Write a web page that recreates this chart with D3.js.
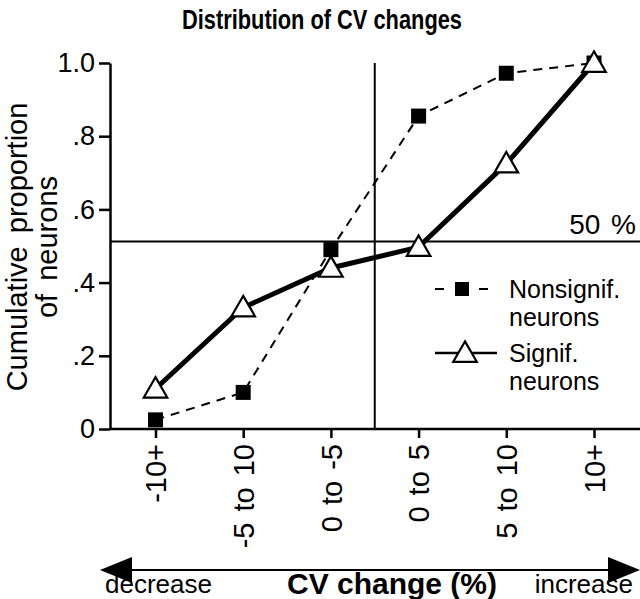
<!DOCTYPE html>
<html>
<head>
<meta charset="utf-8">
<script src="https://cdn.jsdelivr.net/npm/d3@7"></script>
<style>
  html, body { margin: 0; padding: 0; background: #fff; }
  svg { display: block; font-family: "Liberation Sans", Arial, sans-serif; }
</style>
</head>
<body>
<svg id="chart" width="640" height="599"></svg>
<script>
const categories = ["-10+", "-5 to 10", "0 to -5", "0 to 5", "5 to 10", "10+"];
const nonsignif = [0.025, 0.10, 0.49, 0.855, 0.972, 1.0];
const signif = [0.11, 0.332, 0.44, 0.497, 0.725, 1.0];
const yTicks = [0, 0.2, 0.4, 0.6, 0.8, 1.0];
const yTickLabels = ["0", ".2", ".4", ".6", ".8", "1.0"];
const fiftyLevel = 0.512;

const svg = d3.select("#chart");
const x = d3.scalePoint().domain(categories).range([155.5, 594]);
const y = d3.scaleLinear().domain([0, 1]).range([429, 63]);
const axisLeftX = 110;

// title
svg.append("text").attr("x", 182).attr("y", 29)
  .attr("font-size", 28).attr("font-weight", "bold")
  .attr("textLength", 280).attr("lengthAdjust", "spacingAndGlyphs")
  .text("Distribution of CV changes");

// y axis
const yAxis = d3.axisLeft(y).tickValues(yTicks)
  .tickFormat((d, i) => yTickLabels[i]).tickSize(11).tickSizeOuter(0).tickPadding(4);
const gy = svg.append("g").attr("transform", `translate(${axisLeftX},0)`).call(yAxis);
gy.select(".domain").attr("stroke", "#000").attr("stroke-width", 2.5);
gy.selectAll(".tick line").attr("stroke", "#000").attr("stroke-width", 2.5);
gy.selectAll(".tick text").attr("font-size", 27).attr("fill", "#000")
  .attr("font-family", "Liberation Sans, Arial, sans-serif");

// x axis line
svg.append("line").attr("x1", axisLeftX).attr("x2", 640).attr("y1", y(0)).attr("y2", y(0))
  .attr("stroke", "#000").attr("stroke-width", 2.5);
const xAxis = d3.axisBottom(x).tickSize(9).tickSizeOuter(0).tickPadding(6);
const gx = svg.append("g").attr("transform", `translate(0,${y(0)})`).call(xAxis);
gx.select(".domain").remove();
gx.selectAll(".tick line").attr("stroke", "#000").attr("stroke-width", 2.5);
gx.selectAll(".tick text").attr("font-size", 29).attr("fill", "#000")
  .attr("font-family", "Liberation Sans, Arial, sans-serif")
  .attr("word-spacing", 3)
  .attr("transform", "rotate(-90)").attr("text-anchor", "end")
  .attr("x", -15).attr("y", 0).attr("dy", "0.35em");

// reference lines
const midX = (x(categories[2]) + x(categories[3])) / 2;
svg.append("line").attr("x1", midX).attr("x2", midX).attr("y1", y(1)).attr("y2", y(0))
  .attr("stroke", "#000").attr("stroke-width", 2);
svg.append("line").attr("x1", axisLeftX).attr("x2", 640).attr("y1", y(fiftyLevel)).attr("y2", y(fiftyLevel))
  .attr("stroke", "#000").attr("stroke-width", 2);
svg.append("text").attr("x", 636).attr("y", y(fiftyLevel) - 8).attr("text-anchor", "end")
  .attr("font-size", 28).attr("word-spacing", 3).text("50 %");

// series lines
const line = d3.line().x((d, i) => x(categories[i])).y(d => y(d));
svg.append("path").datum(nonsignif).attr("d", line).attr("fill", "none")
  .attr("stroke", "#000").attr("stroke-width", 2).attr("stroke-dasharray", "9,7");
svg.append("path").datum(signif).attr("d", line).attr("fill", "none")
  .attr("stroke", "#000").attr("stroke-width", 5);

// markers
const tri = d3.symbol().type(d3.symbolTriangle).size(240);
svg.selectAll(".sq").data(nonsignif).enter().append("rect")
  .attr("x", (d, i) => x(categories[i]) - 7.5).attr("y", d => y(d) - 7.5)
  .attr("width", 15).attr("height", 15).attr("fill", "#000");
svg.selectAll(".tri").data(signif).enter().append("path")
  .attr("d", tri).attr("transform", (d, i) => `translate(${x(categories[i])},${y(d) + 2})`)
  .attr("fill", "#fff").attr("stroke", "#000").attr("stroke-width", 2.2);

// legend
const lg = svg.append("g");
lg.append("line").attr("x1", 435).attr("x2", 488).attr("y1", 289).attr("y2", 289)
  .attr("stroke", "#000").attr("stroke-width", 2).attr("stroke-dasharray", "9,13");
lg.append("rect").attr("x", 455).attr("y", 282).attr("width", 14).attr("height", 14).attr("fill", "#000");
lg.append("text").attr("x", 509).attr("y", 298).attr("font-size", 25).text("Nonsignif.");
lg.append("text").attr("x", 509).attr("y", 326).attr("font-size", 25).text("neurons");
lg.append("line").attr("x1", 435).attr("x2", 497).attr("y1", 353).attr("y2", 353)
  .attr("stroke", "#000").attr("stroke-width", 2.5);
lg.append("path").attr("d", tri).attr("transform", "translate(465,355)")
  .attr("fill", "#fff").attr("stroke", "#000").attr("stroke-width", 2.2);
lg.append("text").attr("x", 509).attr("y", 362).attr("font-size", 25).text("Signif.");
lg.append("text").attr("x", 509).attr("y", 390).attr("font-size", 25).text("neurons");

// y axis title
const yt = svg.append("text").attr("transform", "translate(27,247) rotate(-90)")
  .attr("text-anchor", "middle").attr("font-size", 29).attr("word-spacing", 5);
yt.append("tspan").attr("x", 0).attr("y", 0).text("Cumulative proportion");
yt.append("tspan").attr("x", 0).attr("y", 30).text("of neurons");

// arrow
const arrowY = 570;
svg.append("line").attr("x1", 120).attr("x2", 620).attr("y1", arrowY).attr("y2", arrowY)
  .attr("stroke", "#000").attr("stroke-width", 2);
svg.append("path").attr("d", `M100,${arrowY} L132,${arrowY - 13} L132,${arrowY + 13} Z`).attr("fill", "#000");
svg.append("path").attr("d", `M640,${arrowY} L608,${arrowY - 13} L608,${arrowY + 13} Z`).attr("fill", "#000");
svg.append("text").attr("x", 105).attr("y", 593).attr("font-size", 26).text("decrease");
svg.append("text").attr("x", 633).attr("y", 593).attr("text-anchor", "end").attr("font-size", 26).text("increase");
svg.append("text").attr("x", 392).attr("y", 594).attr("text-anchor", "middle")
  .attr("font-size", 30).attr("font-weight", "bold").text("CV change (%)");
</script>
</body>
</html>
